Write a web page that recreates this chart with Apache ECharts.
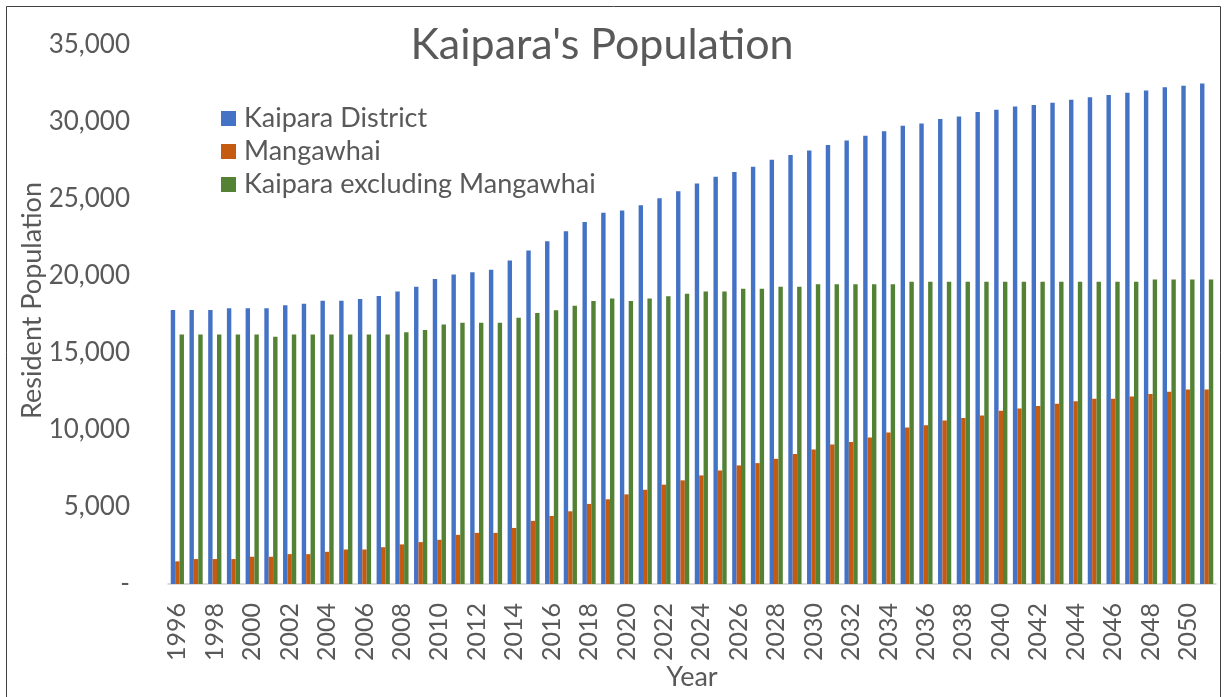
<!DOCTYPE html>
<html>
<head>
<meta charset="utf-8">
<script src="https://cdn.jsdelivr.net/npm/echarts@6/dist/echarts.min.js"></script>
<style>
  html, body { margin: 0; padding: 0; background: #fff; }
  #chart { width: 1224px; height: 697px; }
</style>
</head>
<body>
<div id="chart"></div>
<script>
// years 1996 - 2051
const years = [
  '1996', '1997', '1998', '1999', '2000', '2001', '2002', '2003', '2004', '2005',
  '2006', '2007', '2008', '2009', '2010', '2011', '2012', '2013', '2014', '2015',
  '2016', '2017', '2018', '2019', '2020', '2021', '2022', '2023', '2024', '2025',
  '2026', '2027', '2028', '2029', '2030', '2031', '2032', '2033', '2034', '2035',
  '2036', '2037', '2038', '2039', '2040', '2041', '2042', '2043', '2044', '2045',
  '2046', '2047', '2048', '2049', '2050', '2051',
];

const kaiparaDistrict = [
  17800, 17800, 17800, 17900, 17900, 17900, 18100, 18200, 18400, 18400,
  18500, 18700, 19000, 19300, 19800, 20100, 20250, 20400, 21000, 21650,
  22250, 22900, 23500, 24100, 24250, 24600, 25050, 25500, 26000, 26450,
  26750, 27100, 27550, 27850, 28150, 28500, 28800, 29100, 29400, 29750,
  29900, 30200, 30350, 30650, 30800, 31000, 31100, 31250, 31450, 31600,
  31750, 31900, 32050, 32250, 32350, 32500,
];

const mangawhai = [
  1470, 1620, 1620, 1620, 1770, 1770, 1940, 1940, 2090, 2240,
  2240, 2390, 2570, 2720, 2870, 3190, 3320, 3320, 3640, 4100,
  4420, 4720, 5200, 5500, 5820, 6120, 6450, 6730, 7050, 7370,
  7700, 7850, 8130, 8440, 8730, 9060, 9220, 9510, 9840, 10160,
  10310, 10620, 10780, 10940, 11250, 11400, 11560, 11710, 11870, 12030,
  12030, 12180, 12340, 12490, 12630, 12630,
];

const excludingMangawhai = [
  16200, 16200, 16200, 16200, 16200, 16050, 16200, 16200, 16200, 16200,
  16200, 16200, 16350, 16500, 16850, 16970, 16970, 16970, 17290, 17590,
  17770, 18070, 18370, 18540, 18370, 18540, 18690, 18840, 19000, 19000,
  19170, 19170, 19310, 19310, 19470, 19470, 19470, 19470, 19470, 19620,
  19620, 19620, 19620, 19620, 19620, 19620, 19620, 19620, 19620, 19620,
  19620, 19620, 19780, 19780, 19780, 19780,
];

const seriesNames = ['Kaipara District', 'Mangawhai', 'Kaipara excluding Mangawhai'];

const font = 'Lato, Carlito, sans-serif';
const textColor = '#595959';

const myChart = echarts.init(document.getElementById('chart'));

const barSeries = (name, data) => ({
  name,
  type: 'bar',
  data,
  barWidth: 4.4,
  barGap: '0%',
  animation: false,
});

const option = {
  color: ['#4472C4', '#C55A11', '#548235'],
  textStyle: { fontFamily: font },
  title: {
    text: "Kaipara's Population",
    left: 597,
    textAlign: 'center',
    top: 19,
    textStyle: {
      fontFamily: font,
      fontSize: 43,
      fontWeight: 'normal',
      color: textColor,
    },
  },
  legend: {
    orient: 'vertical',
    left: 216,
    top: 100,
    icon: 'rect',
    itemWidth: 15,
    itemHeight: 15,
    itemGap: 6,
    data: seriesNames,
    textStyle: {
      fontFamily: font,
      fontSize: 27,
      lineHeight: 27,
      color: textColor,
      padding: [0, 0, 0, 3],
    },
  },
  grid: {
    left: 168,
    right: 8,
    top: 45,
    bottom: 113,
    outerBoundsMode: 'none',
  },
  xAxis: {
    type: 'category',
    data: years,
    name: 'Year',
    nameLocation: 'middle',
    nameGap: 80,
    nameMoveOverlap: false,
    nameTextStyle: { fontFamily: font, fontSize: 27, color: textColor },
    axisLine: { lineStyle: { color: '#d0d0d0', width: 1.5 } },
    axisTick: { show: false },
    axisLabel: {
      interval: 1,
      rotate: 90,
      margin: 19,
      fontFamily: font,
      fontSize: 25,
      color: textColor,
    },
  },
  yAxis: {
    type: 'value',
    min: 0,
    max: 35000,
    interval: 5000,
    name: 'Resident Population',
    nameLocation: 'middle',
    nameGap: 122,
    nameMoveOverlap: false,
    nameTextStyle: {
      fontFamily: font,
      fontSize: 27,
      color: textColor,
      padding: [0, 0, 0, 28],
    },
    axisLine: { show: false },
    axisTick: { show: false },
    splitLine: { show: false },
    axisLabel: {
      margin: 38,
      fontFamily: font,
      fontSize: 26,
      color: textColor,
      formatter: (v) => (v === 0 ? '-' : v.toLocaleString('en-US')),
    },
  },
  graphic: [
    {
      type: 'rect',
      shape: { x: 6.5, y: 6.5, width: 1214, height: 700 },
      style: { fill: 'none', stroke: '#404040', lineWidth: 1 },
      silent: true,
    },
  ],
  series: [
    barSeries(seriesNames[0], kaiparaDistrict),
    barSeries(seriesNames[1], mangawhai),
    barSeries(seriesNames[2], excludingMangawhai),
  ],
};

myChart.setOption(option);
window.addEventListener('resize', () => myChart.resize());
</script>
</body>
</html>
